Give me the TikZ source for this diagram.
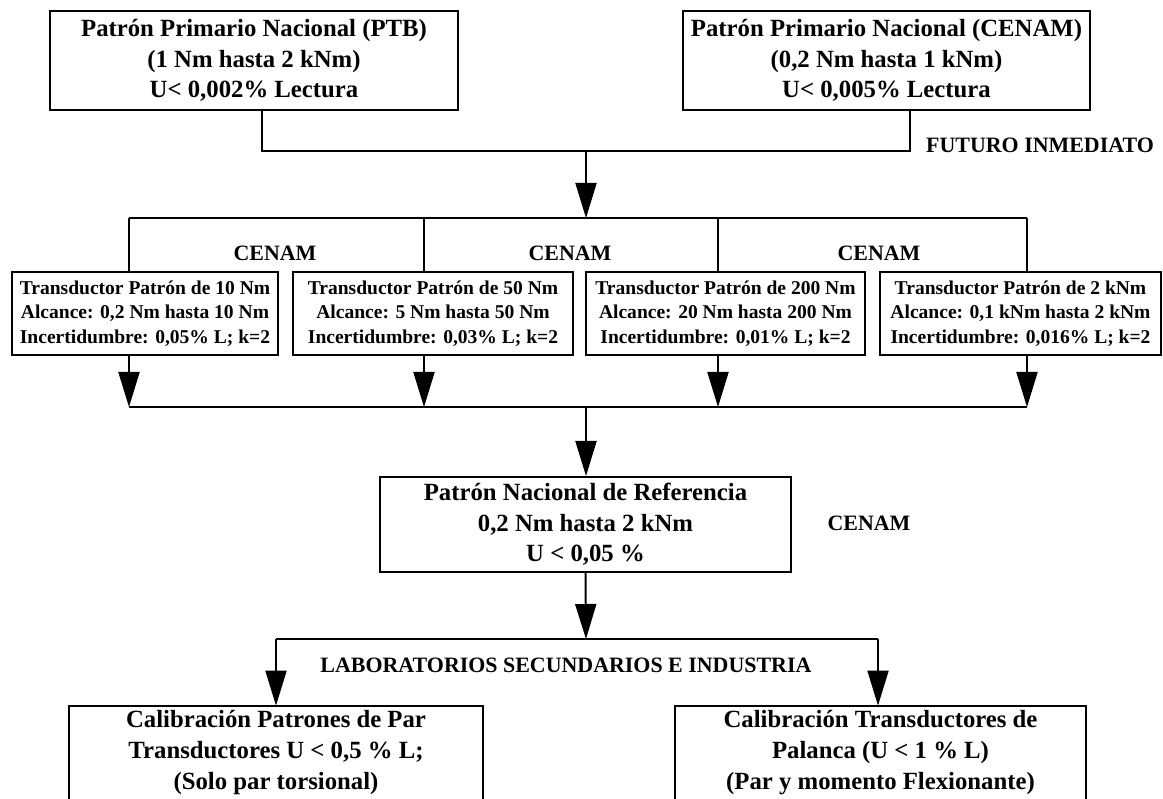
\documentclass[tikz,border=0pt]{standalone}
\usepackage{fontspec}
\setmainfont{Liberation Serif}
\usepackage{tikz}
\usetikzlibrary{arrows.meta}

\begin{document}
\begin{tikzpicture}[x=0.025cm,y=-0.025cm,
  caja/.style={draw,line width=1.4pt,align=center,inner sep=0pt},
  grande/.style={font=\bfseries\fontsize{17.6}{21.8}\selectfont},
  chica/.style={font=\bfseries\fontsize{13.9}{17.4}\selectfont},
  rotulo/.style={font=\bfseries\fontsize{15.6}{18}\selectfont},
  linea/.style={line width=1.4pt},
  flecha/.style={line width=1.4pt,-{Triangle[length=8.75mm,width=5.25mm]}}]

\useasboundingbox (0,0) rectangle (1163,799);
\clip (0,0) rectangle (1163,799);

\node[caja,grande,minimum width=10.2cm,minimum height=2.475cm] (ptb) at (254,60.5) {Patrón Primario Nacional (PTB)\\(1 Nm hasta 2 kNm)\\U< 0,002\% Lectura};

\node[caja,grande,minimum width=10.175cm,minimum height=2.475cm] (cnm) at (886.5,60.5) {Patrón Primario Nacional (CENAM)\\(0,2 Nm hasta 1 kNm)\\U< 0,005\% Lectura};

\node[rotulo] (fut) at (1040,145) {FUTURO INMEDIATO};

\coordinate (j1) at (262,151);
\coordinate (j2) at (910,151);
\coordinate (j3) at (586,151);

\coordinate (h1) at (129,218);
\coordinate (h2) at (424,218);
\coordinate (h3) at (718,218);
\coordinate (h4) at (1027,218);
\coordinate (h0) at (586,218);

\node[rotulo] (c1) at (275,253) {CENAM};
\node[rotulo] (c2) at (570,253) {CENAM};
\node[rotulo] (c3) at (879,253) {CENAM};

\node[caja,chica,minimum width=6.65cm,minimum height=2.075cm] (t1) at (145,313.5) {Transductor Patrón de 10 Nm\\Alcance: 0,2 Nm hasta 10 Nm\\Incertidumbre: 0,05\% L; k=2};
\node[caja,chica,minimum width=7cm,minimum height=2.075cm] (t2) at (433,313.5) {Transductor Patrón de 50 Nm\\Alcance: 5 Nm hasta 50 Nm\\Incertidumbre: 0,03\% L; k=2};
\node[caja,chica,minimum width=6.975cm,minimum height=2.075cm] (t3) at (725.5,313.5) {Transductor Patrón de 200 Nm\\Alcance: 20 Nm hasta 200 Nm\\Incertidumbre: 0,01\% L; k=2};
\node[caja,chica,minimum width=7.025cm,minimum height=2.075cm] (t4) at (1020.5,313.5) {Transductor Patrón de 2 kNm\\Alcance: 0,1 kNm hasta 2 kNm\\Incertidumbre: 0,016\% L; k=2};

\coordinate (g1) at (129,407);
\coordinate (g2) at (424,407);
\coordinate (g3) at (718,407);
\coordinate (g4) at (1027,407);
\coordinate (g0) at (586,407);

\node[caja,grande,minimum width=10.275cm,minimum height=2.375cm] (ref) at (585.5,524.5) {Patrón Nacional de Referencia\\0,2 Nm hasta 2 kNm\\U < 0,05 \%};

\node[rotulo] (c4) at (869,523) {CENAM};

\coordinate (k0) at (586,639);
\coordinate (k1) at (276,639);
\coordinate (k2) at (878,639);

\node[rotulo] (lab) at (566,665) {LABORATORIOS SECUNDARIOS E INDUSTRIA};

\node[grande,align=center,minimum width=10.35cm,minimum height=2.225cm] (cal1) at (276,752.5) {Calibración Patrones de Par\\Transductores U < 0,5 \% L;\\(Solo par torsional)};
\node[grande,align=center,minimum width=10.275cm,minimum height=2.225cm] (cal2) at (880.5,752.5) {Calibración Transductores de\\Palanca (U < 1 \% L)\\(Par y momento Flexionante)};

\draw[linea] (ptb.south -| j1) -- (j1) -- (j2) -- (cnm.south -| j2);
\draw[flecha] (j3) -- (h0);
\draw[linea] (h1) -- (h4);
\foreach \i in {1,...,4} \draw[linea] (h\i) -- (t\i.north -| h\i);
\foreach \i in {1,...,4} \draw[flecha] (t\i.south -| h\i) -- (g\i);
\draw[linea] (g1) -- (g4);
\draw[flecha] (g0) -- (g0 |- ref.north);
\draw[flecha] (ref.south) -- (k0);
\draw[linea] (k1) -- (k2);
\draw[flecha] (k1) -- (k1 |- cal1.north);
\draw[flecha] (k2) -- (k2 |- cal2.north);
\draw[linea] ([yshift=-1cm]cal1.south west) |- (cal1.north east) -- ([yshift=-1cm]cal1.south east);
\draw[linea] ([yshift=-1cm]cal2.south west) |- (cal2.north east) -- ([yshift=-1cm]cal2.south east);

\end{tikzpicture}
\end{document}
